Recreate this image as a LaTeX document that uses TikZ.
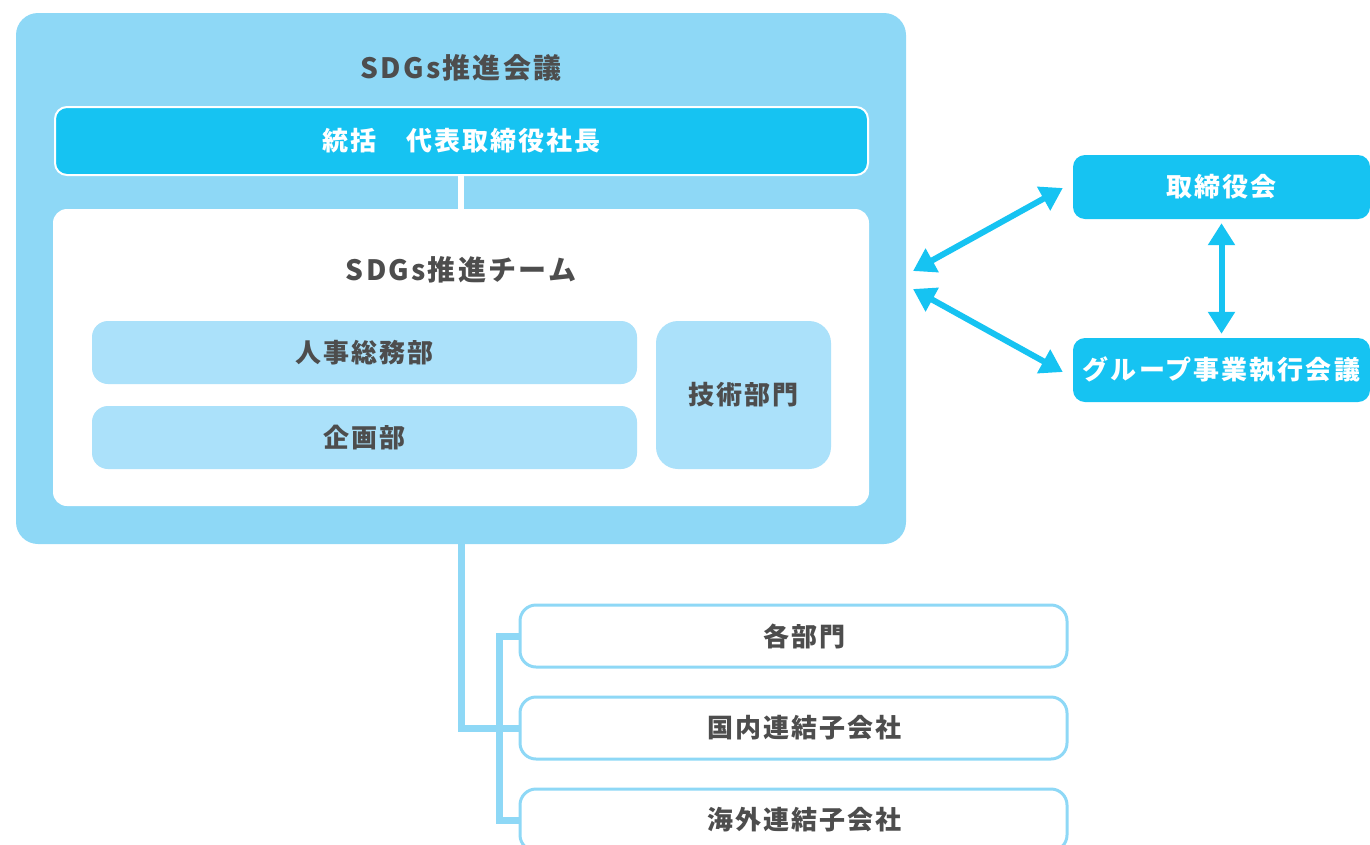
\documentclass[tikz,border=0pt]{standalone}
\usepackage{fontspec}
\setmainfont{Noto Sans CJK JP}[LetterSpace=8]
\usepackage{tikz}
\usetikzlibrary{arrows.meta}
\definecolor{pale}{HTML}{8ED8F6}
\definecolor{paler}{HTML}{ABE1FA}
\definecolor{bright}{HTML}{16C3F2}
\definecolor{ink}{HTML}{4D4D4D}
\tikzset{every picture/.append style={x=1pt,y=-1pt}}
\tikzset{txt/.style={font=\bfseries\fontsize{26}{30}\selectfont}}
\tikzset{panel/.style={rectangle,fill=pale,rounded corners=22pt}}
\tikzset{lead/.style={rectangle,fill=bright,text=white,txt,rounded corners=12pt}}
\tikzset{unit/.style={rectangle,fill=paler,text=ink,txt,rounded corners=16pt}}
\tikzset{branch/.style={rectangle,draw=pale,line width=3pt,fill=white,rounded corners=16pt,minimum width=547pt,minimum height=62pt,
  label={[text=ink,txt,xshift=11pt]center:#1}}}
\tikzset{link/.style={draw=pale,line width=7pt}}
\tikzset{arc/.style={{Triangle[width=26pt,length=22pt]}-{Triangle[width=26pt,length=22pt]},draw=bright,line width=6pt}}

\begin{document}
\begin{tikzpicture}
\useasboundingbox (0,0) rectangle (1370,844);
\clip (0,0) rectangle (1370,844);
\node (council) at (461,278.5)[panel,minimum width=890pt,minimum height=531pt]{};
\node (ctitle) at (461,68)[text=ink,font=\bfseries\fontsize{28}{32}\selectfont]{SDGs推進会議};
\node (team) at (461,357.5)[rectangle,fill=white,rounded corners=14pt,minimum width=816pt,minimum height=297pt]{};
\draw[white,line width=6pt] (461,170) -- (team.north);
\node (chief) at (461.5,141)[lead,draw=white,line width=2pt,minimum width=813pt,minimum height=68pt]{統括　代表取締役社長};
\node (ttitle) at (461,270)[text=ink,font=\bfseries\fontsize{28}{32}\selectfont]{SDGs推進チーム};
\node (hr) at (364.5,352.5)[unit,minimum width=545pt,minimum height=63pt]{人事総務部};
\node (plan) at (364.5,437.5)[unit,minimum width=545pt,minimum height=63pt]{企画部};
\node (tech) at (743.5,395)[unit,rounded corners=22pt,minimum width=175pt,minimum height=148pt]{技術部門};

\node (board) at (1221.5,187)[lead,minimum width=297pt,minimum height=64pt]{取締役会};
\node (exec) at (1221.5,370)[lead,minimum width=297pt,minimum height=64pt]{グループ事業執行会議};
\coordinate (in1) at (913,271);
\coordinate (in2) at (913,289);
\draw[arc] (in1) -- ([xshift=-10pt,yshift=-1pt]board.west);
\draw[arc] (in2) -- ([xshift=-10pt,yshift=-2pt]exec.west);
\draw[arc,shorten <=4pt,shorten >=4pt] (board.south) -- (exec.north);

\node (dept1) at (793.5,636)[branch=各部門]{};
\node (dept2) at (793.5,728)[branch=国内連結子会社]{};
\node (dept3) at (793.5,820)[branch=海外連結子会社]{};
\draw[link] (council.south) |- (dept2.west);
\draw[link] (dept1.west) -- ++(-19,0) |- (dept3.west);
\draw[link] (dept2.west) -- ++(-19,0);
\end{tikzpicture}
\end{document}
